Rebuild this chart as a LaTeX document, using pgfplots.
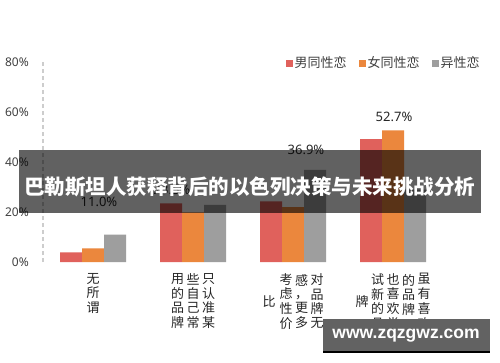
\documentclass[border=0pt]{standalone}
\usepackage{fontspec}
\setmainfont{Noto Sans}
\newfontfamily\cjk{Noto Sans CJK SC}
\newfontfamily\wm{Liberation Sans}
\usepackage{pgfplots}
\pgfplotsset{compat=1.18}
\definecolor{cred}{RGB}{224,97,92}
\definecolor{corange}{RGB}{235,135,61}
\definecolor{cgray}{RGB}{158,158,158}
\definecolor{txt}{RGB}{64,64,64}
\definecolor{wmgray}{RGB}{98,98,98}
\newcommand{\vc}[1]{\begin{tabular}{@{}c@{}}#1\end{tabular}}
\begin{document}
\begin{tikzpicture}[x=1pt,y=1pt]
\fill[white] (0,0) rectangle (500,362);
\path[use as bounding box] (0,0) rectangle (500,362);
\begin{axis}[
  at={(43pt,100pt)}, anchor=south west, scale only axis,
  width=400pt, height=200pt,
  xmin=-0.5, xmax=3.5, ymin=0, ymax=80,
  ybar=0pt, bar width=22pt,
  axis lines=left,
  axis line style={-},
  x axis line style={draw=none},
  y axis line style={draw={rgb,255:red,205;green,205;blue,205}, line width=1.2pt, dash pattern=on 4pt off 3pt},
  xtick={0,1,2,3},
  xticklabels={
    {\vc{无\\所\\谓}},
    {\vc{用\\的\\品\\牌}\hspace{2.5pt}\vc{些\\自\\己\\常}\hspace{2.5pt}\vc{只\\认\\准\\某}},
    {\vc{比}\hspace{4pt}\vc{考\\虑\\性\\价}\hspace{2.5pt}\vc{感\\，\\更\\多}\hspace{2.5pt}\vc{对\\品\\牌\\无}},
    {\vc{牌}\hspace{2.5pt}\vc{试\\新\\的\\品}\hspace{2.5pt}\vc{也\\喜\\欢\\尝}\hspace{2.5pt}\vc{的\\品\\牌\\，}\hspace{2.5pt}\vc{虽\\有\\喜\\欢}}
  },
  ytick={0,20,40,60,80},
  yticklabel={\pgfmathprintnumber{\tick}\%},
  major tick length=0pt,
  /pgf/number format/assume math mode=true,
  tick label style={font=\fontsize{12}{14}\selectfont, text=txt},
  xticklabel style={anchor=north, inner sep=0pt, yshift=-11pt, font=\cjk\fontsize{13}{12.8}\selectfont, text=black!85},
  yticklabel style={anchor=east, inner sep=0pt, xshift=-14pt},
  legend columns=3,
  legend style={at={(1.097,0.995)}, anchor=east, draw=none, fill=none, inner sep=0pt,
    font=\cjk\fontsize{13}{15}\selectfont, text=txt,
    /tikz/every even column/.append style={column sep=10pt}},
  legend image code/.code={\fill[#1] (0pt,-3.5pt) rectangle (7pt,3.5pt);},
]
\addplot[fill=cred, draw=none] coordinates {(0,3.9) (1,23.5) (2,24.3) (3,49.2)};
\addlegendentry{男同性恋}
\addplot[fill=corange, draw=none] coordinates {(0,5.5) (1,19.9) (2,22.0) (3,52.7)};
\addlegendentry{女同性恋}
\addplot[fill=cgray, draw=none] coordinates {(0,11.0) (1,22.9) (2,36.9) (3,29.0)};
\addlegendentry{异性恋}
\node[font=\fontsize{13}{15}\selectfont, text=black!85] at (axis cs:0.06,24) {11.0\%};
\node[font=\fontsize{13}{15}\selectfont, text=black!85] at (axis cs:0.79,28.8) {23.5\%};
\node[font=\fontsize{13}{15}\selectfont, text=black!85] at (axis cs:2.13,44.8) {36.9\%};
\node[font=\fontsize{13}{15}\selectfont, text=black!85] at (axis cs:3.01,58) {52.7\%};
\end{axis}
\fill[black, fill opacity=0.62] (19,149) rectangle (481,212);
\node[text=white, font=\cjk\bfseries\fontsize{20.5}{22}\selectfont, inner sep=0pt] at (249.5,175) {巴勒斯坦人获释背后的以色列决策与未来挑战分析};
\fill[wmgray] (323,11) rectangle (490,43);
\fill[black] (323,9) rectangle (490,11);
\node[text=white, font=\wm\bfseries\fontsize{17.5}{20}\selectfont, inner sep=0pt] at (406,26) {www.zqzgwz.com};
\end{tikzpicture}
\end{document}
